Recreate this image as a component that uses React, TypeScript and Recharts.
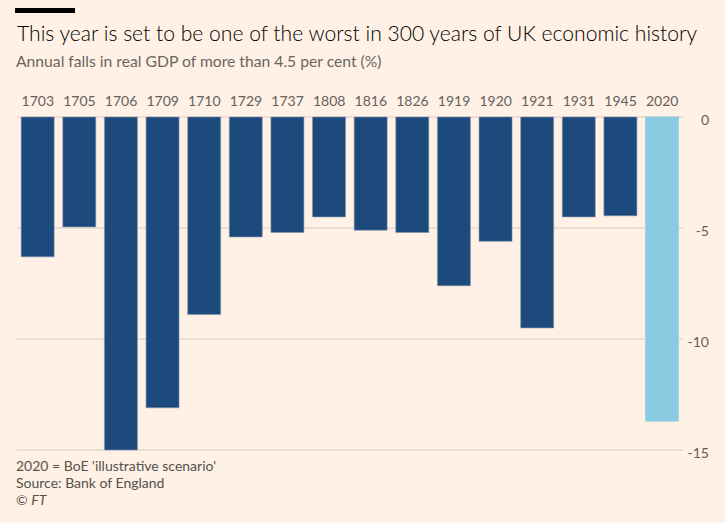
import React from "react";
import { Bar, BarChart, CartesianGrid, Cell, XAxis, YAxis } from "recharts";

// Years with annual real GDP falls of more than 4.5 per cent
const years = [
	"1703", "1705", "1706", "1709", "1710", "1729", "1737", "1808",
	"1816", "1826", "1919", "1920", "1921", "1931", "1945", "2020",
];
const falls = [
	-6.3, -4.95, -15.0, -13.1, -8.9, -5.4, -5.2, -4.5,
	-5.1, -5.2, -7.6, -5.6, -9.5, -4.5, -4.45, -13.7,
];
const yTicks = [0, -5, -10, -15];
const scenarioYear = "2020";

const chartData = years.map((year, i) => ({ year, fall: falls[i] }));

const FONT = "Lato, 'Open Sans', sans-serif";
const BG = "#FFF1E5";
const MUTED = "#66605C";

const XTick = ({ x, y, payload }: any) => (
	<text x={x} y={y} textAnchor="middle" fill={MUTED} fontSize={14} fontFamily={FONT}>
		{payload.value}
	</text>
);

const YTick = ({ x, y, payload }: any) => (
	<text x={x + 18} y={y + 8} textAnchor="end" fill={MUTED} fontSize={14} fontFamily={FONT}>
		{payload.value}
	</text>
);

export default function App() {
	return (
		<div
			style={{
				position: "fixed",
				left: 0,
				top: 0,
				width: 725,
				height: 523,
				background: BG,
				fontFamily: FONT,
				overflow: "hidden",
			}}
		>
			<div style={{ position: "absolute", left: 15, top: 8, width: 60, height: 5, background: "#000" }} />
			<div
				style={{
					position: "absolute",
					left: 17,
					top: 20,
					fontSize: 21.1,
					fontWeight: 300,
					color: "#000",
					whiteSpace: "nowrap",
				}}
			>
				This year is set to be one of the worst in 300 years of UK economic history
			</div>
			<div
				style={{
					position: "absolute",
					left: 16,
					top: 52,
					fontSize: 15.7,
					color: "#6b6561",
					whiteSpace: "nowrap",
				}}
			>
				Annual falls in real GDP of more than 4.5 per cent (%)
			</div>

			<div style={{ position: "absolute", left: 0, top: 0 }}>
				<BarChart
					width={725}
					height={523}
					data={chartData}
					margin={{ top: 87, right: 0, left: 17, bottom: 73 }}
					barCategoryGap="10%"
				>
					<CartesianGrid horizontal vertical={false} stroke="#D8CCC1" strokeWidth={1.2} />
					<XAxis
						dataKey="year"
						orientation="top"
						height={30}
						axisLine={false}
						tickLine={false}
						tickSize={0}
						tickMargin={11}
						interval={0}
						tick={<XTick />}
					/>
					<YAxis
						orientation="right"
						width={42}
						domain={[-15, 0]}
						ticks={yTicks}
						axisLine={false}
						tickLine={false}
						tickSize={0}
						tickMargin={8}
						tick={<YTick />}
					/>
					<Bar dataKey="fall" isAnimationActive={false} stroke="#7f93ad" strokeWidth={0.6}>
						{chartData.map((d) => (
							<Cell
								key={d.year}
								fill={d.year === scenarioYear ? "#89CCE2" : "#1D4A7C"}
								stroke={d.year === scenarioYear ? "#89CCE2" : "#7f93ad"}
							/>
						))}
					</Bar>
				</BarChart>
			</div>

			<div
				style={{
					position: "absolute",
					left: 16,
					top: 457,
					fontSize: 14,
					lineHeight: "17px",
					color: "#55504C",
				}}
			>
				<div>2020 = BoE 'illustrative scenario'</div>
				<div>Source: Bank of England</div>
				<div>
					© <i>FT</i>
				</div>
			</div>
		</div>
	);
}
